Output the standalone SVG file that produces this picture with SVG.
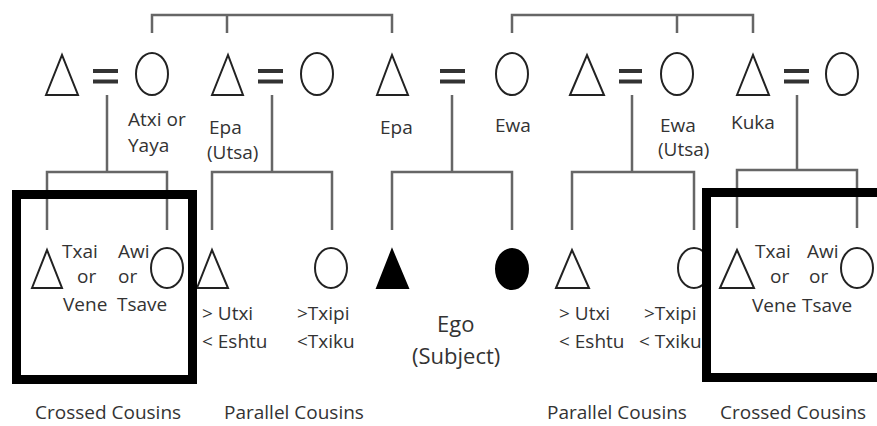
<svg xmlns="http://www.w3.org/2000/svg" width="877" height="426" viewBox="0 0 877 426">
<style>
.ln{fill:none;stroke:#666;stroke-width:2.5}
.eq{stroke:#333;stroke-width:4}
.sym{fill:none;stroke:#222;stroke-width:2}
.fill{fill:#000;stroke:#000;stroke-width:2}
.box{fill:none;stroke:#000;stroke-width:9}
text{font-family:"Open Sans","Noto Sans",sans-serif;font-size:19px;fill:#333}
.big{font-size:22px}
</style>
<rect width="877" height="426" fill="#fff"/>
<g id="connectors">
<path class="ln" d="M152,33V15H392V33M227,15V33"/>
<path class="ln" d="M512,33V15H753V33M677,15V33"/>
<path class="ln" d="M107,95V172M47,230V172H167V230"/>
<path class="ln" d="M272,95V172M212,230V172H332V230"/>
<path class="ln" d="M452,95V172M392,230V172H512V230"/>
<path class="ln" d="M632,95V172M572,230V172H694V230"/>
<path class="ln" d="M797,95V170M737,228V170H857V228"/>
<path class="eq" d="M93,71H118M93,81.5H118"/>
<path class="eq" d="M258,71H283M258,81.5H283"/>
<path class="eq" d="M440,71H465M440,81.5H465"/>
<path class="eq" d="M619,71H642M619,81.5H642"/>
<path class="eq" d="M784,71H809M784,81.5H809"/>
</g>
<g id="gp1m"><polygon class="sym" points="46,95 62,55 78,95"/></g>
<g id="gp1f"><ellipse class="sym" cx="152" cy="74" rx="16" ry="21"/><text x="128" y="126">Atxi or</text><text x="128" y="152">Yaya</text></g>
<g id="epa-utsa"><polygon class="sym" points="212,95 228,55 243,95"/><text x="209" y="134">Epa</text><text x="207" y="159">(Utsa)</text></g>
<g id="gp2f"><ellipse class="sym" cx="317" cy="74" rx="16" ry="21"/></g>
<g id="epa"><polygon class="sym" points="377,95 392,55 408,95"/><text x="380" y="134">Epa</text></g>
<g id="ewa"><ellipse class="sym" cx="512" cy="74" rx="16" ry="21"/><text x="495" y="132">Ewa</text></g>
<g id="gp3m"><polygon class="sym" points="570,95 587,55 604,95"/></g>
<g id="ewa-utsa"><ellipse class="sym" cx="677" cy="74" rx="16" ry="21"/><text x="660" y="132">Ewa</text><text x="658" y="156">(Utsa)</text></g>
<g id="kuka"><polygon class="sym" points="737,95 753,55 769,95"/><text x="731" y="129">Kuka</text></g>
<g id="gp4f"><ellipse class="sym" cx="842" cy="74" rx="16" ry="21"/></g>
<g id="cross-left">
<polygon class="sym" points="32,288 47,250 62,288"/>
<ellipse class="sym" cx="167" cy="268" rx="16" ry="20"/>
<text x="62" y="258">Txai</text><text x="118" y="258">Awi</text>
<text x="77" y="283">or</text><text x="118" y="283">or</text>
<text x="63" y="311">Vene</text><text x="117" y="311">Tsave</text>
</g>
<g id="par-left-m"><polygon class="sym" points="197,288 212,250 228,288"/><text x="202" y="320">&gt; Utxi</text><text x="202" y="348">&lt; Eshtu</text></g>
<g id="par-left-f"><ellipse class="sym" cx="331" cy="268" rx="16" ry="20"/><text x="297" y="320">&gt;Txipi</text><text x="297" y="348">&lt;Txiku</text></g>
<g id="ego-m"><polygon class="fill" points="377,288 392,250 408,288"/></g>
<g id="ego-f"><ellipse class="fill" cx="512" cy="269" rx="16" ry="20"/></g>
<g id="ego-label"><text class="big" x="437" y="332">Ego</text><text class="big" x="412" y="364">(Subject)</text></g>
<g id="par-right-m"><polygon class="sym" points="556,288 572,250 589,288"/><text x="559" y="320">&gt; Utxi</text><text x="559" y="348">&lt; Eshtu</text></g>
<g id="par-right-f"><ellipse class="sym" cx="694" cy="268" rx="16" ry="20"/><text x="644" y="320">&gt;Txipi</text><text x="639" y="348">&lt; Txiku</text></g>
<g id="cross-right">
<polygon class="sym" points="720,288 737,250 754,288"/>
<ellipse class="sym" cx="857" cy="268" rx="16" ry="20"/>
<text x="755" y="258">Txai</text><text x="807" y="258">Awi</text>
<text x="770" y="283">or</text><text x="809" y="283">or</text>
<text x="752" y="312">Vene</text><text x="802" y="312">Tsave</text>
</g>
<g id="boxes">
<rect class="box" x="16.5" y="194.5" width="176" height="185"/>
<rect class="box" x="706.5" y="192.5" width="200" height="185"/>
</g>
<g id="captions">
<text x="35" y="419">Crossed Cousins</text>
<text x="224" y="419">Parallel Cousins</text>
<text x="547" y="419">Parallel Cousins</text>
<text x="720" y="419">Crossed Cousins</text>
</g>
</svg>
